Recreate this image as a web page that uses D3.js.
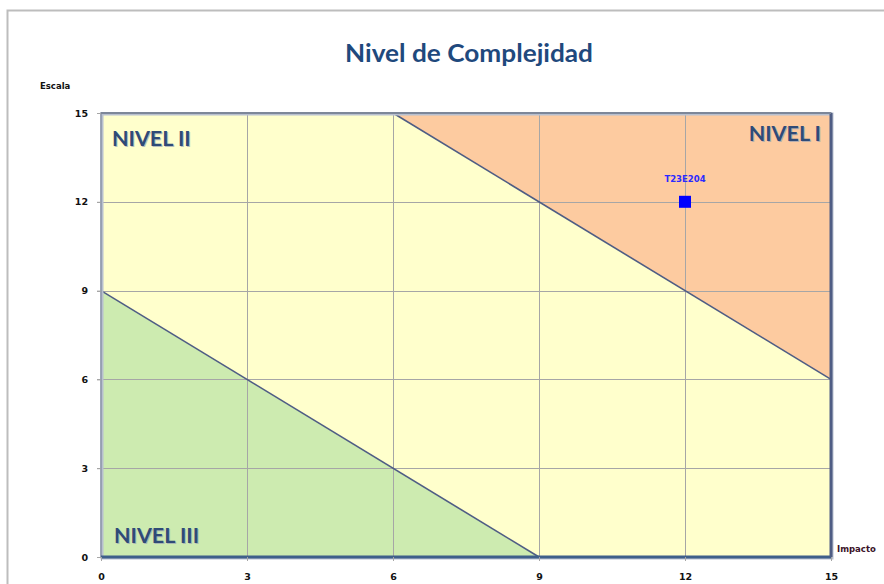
<!DOCTYPE html>
<html>
<head>
<meta charset="utf-8">
<script src="https://cdn.jsdelivr.net/npm/d3@7"></script>
<style>
  html, body { margin: 0; padding: 0; background: #fff; }
  svg { display: block; }
</style>
</head>
<body>
<svg id="chart" width="884" height="584"></svg>
<script>
// Axis ticks
const xTicks = [0, 3, 6, 9, 12, 15];
const yTicks = [0, 3, 6, 9, 12, 15];

// Complexity zones (polygons in Impacto / Escala units)
const zoneNames = ["NIVEL III", "NIVEL II", "NIVEL I"];
const zoneColors = ["#cdebb0", "#ffffcc", "#fdcba0"];
const zoneIII = [[0, 0], [0, 9], [9, 0]];
const zoneII = [[0, 9], [0, 15], [6, 15], [15, 6], [15, 0], [9, 0]];
const zoneI = [[6, 15], [15, 15], [15, 6]];

// Boundary lines between zones
const boundaryLow = [[0, 9], [9, 0]];
const boundaryHigh = [[6, 15], [15, 6]];

// Evaluated project
const pointNames = ["T23E204"];
const pointImpacto = [12];
const pointEscala = [12];

const svg = d3.select("#chart");
const margin = { left: 101, right: 53, top: 113, bottom: 27 };
const W = 884, H = 584;

const x = d3.scaleLinear().domain([0, 15]).range([margin.left, W - margin.right]);
const y = d3.scaleLinear().domain([0, 15]).range([H - margin.bottom, margin.top]);

// outer chart frame
svg.append("rect")
  .attr("x", 7.5).attr("y", 10.5).attr("width", 900).attr("height", 600)
  .attr("fill", "none").attr("stroke", "#bdbdbd").attr("stroke-width", 2);

// title
svg.append("text")
  .attr("x", 469).attr("y", 62)
  .attr("text-anchor", "middle")
  .attr("font-family", "Lato, 'Open Sans', sans-serif")
  .attr("font-weight", "bold")
  .attr("font-size", 25)
  .attr("textLength", 248)
  .attr("lengthAdjust", "spacingAndGlyphs")
  .attr("fill", "#1f497d")
  .text("Nivel de Complejidad");

const line = d3.line().x(d => x(d[0])).y(d => y(d[1]));

// zones
const zones = [zoneIII, zoneII, zoneI];
svg.append("g").selectAll("path")
  .data(zones)
  .join("path")
  .attr("d", d => line(d) + "Z")
  .attr("fill", (d, i) => zoneColors[i]);

// grid
const grid = svg.append("g").attr("stroke", "#a6a6a6").attr("stroke-width", 1);
grid.selectAll(".gx").data(xTicks.slice(1, -1)).join("line")
  .attr("x1", d => Math.round(x(d)) + 0.5).attr("x2", d => Math.round(x(d)) + 0.5)
  .attr("y1", y(15)).attr("y2", y(0) + 4);
grid.selectAll(".gy").data(yTicks.slice(1, -1)).join("line")
  .attr("x1", x(0) - 4).attr("x2", x(15))
  .attr("y1", d => Math.round(y(d)) + 0.5).attr("y2", d => Math.round(y(d)) + 0.5);

// zone boundaries
svg.append("g").selectAll("path")
  .data([boundaryLow, boundaryHigh])
  .join("path")
  .attr("d", line)
  .attr("fill", "none")
  .attr("stroke", "#4f5d84")
  .attr("stroke-width", 1.6);

// plot frame with soft shadow
const frame = svg.append("g");
frame.append("rect")
  .attr("x", x(0) + 1).attr("y", y(15) + 1)
  .attr("width", x(15) - x(0)).attr("height", y(0) - y(15))
  .attr("fill", "none").attr("stroke", "#b8c0cf").attr("stroke-width", 3);
frame.append("rect")
  .attr("x", x(0)).attr("y", y(15))
  .attr("width", x(15) - x(0)).attr("height", y(0) - y(15))
  .attr("fill", "none").attr("stroke", "#8a94a8").attr("stroke-width", 1.5);
frame.append("line")
  .attr("x1", x(0)).attr("x2", x(15) + 1).attr("y1", y(0)).attr("y2", y(0))
  .attr("stroke", "#3e5f8a").attr("stroke-width", 3);
frame.append("line")
  .attr("x1", x(15)).attr("x2", x(15)).attr("y1", y(15)).attr("y2", y(0))
  .attr("stroke", "#4f5d84").attr("stroke-width", 3);
frame.append("line")
  .attr("x1", x(0)).attr("x2", x(15)).attr("y1", y(15)).attr("y2", y(15))
  .attr("stroke", "#7d8799").attr("stroke-width", 2);

// axes
const tickFont = g => g.selectAll("text")
  .attr("font-family", "'DejaVu Sans', sans-serif")
  .attr("font-weight", "bold")
  .attr("font-size", 9.5)
  .attr("fill", "#111");

const xAxis = svg.append("g")
  .attr("transform", `translate(0,${y(0)})`)
  .call(d3.axisBottom(x).tickValues(xTicks).tickSize(4).tickPadding(12));
xAxis.select(".domain").remove();
xAxis.selectAll("line").attr("stroke", "#a6a6a6");
tickFont(xAxis);

const yAxis = svg.append("g")
  .attr("transform", `translate(${x(0)},0)`)
  .call(d3.axisLeft(y).tickValues(yTicks).tickSize(4).tickPadding(9));
yAxis.select(".domain").remove();
yAxis.selectAll("line").attr("stroke", "#a6a6a6");
tickFont(yAxis);

// axis names
svg.append("text")
  .attr("x", 40).attr("y", 89)
  .attr("font-family", "'DejaVu Sans', sans-serif")
  .attr("font-weight", "bold").attr("font-size", 8.5)
  .attr("fill", "#111")
  .text("Escala");
svg.append("text")
  .attr("x", 837).attr("y", 552)
  .attr("font-family", "'DejaVu Sans', sans-serif")
  .attr("font-weight", "bold").attr("font-size", 8.5)
  .attr("fill", "#3a1228")
  .text("Impacto");

// zone labels
const zoneLabelPos = [
  { x: x(0) + 13, y: y(0) - 14, anchor: "start" },
  { x: x(0) + 11, y: y(15) + 33, anchor: "start" },
  { x: x(15) - 10, y: y(15) + 28, anchor: "end" }
];
const labels = svg.append("g")
  .attr("font-family", "Lato, 'Open Sans', sans-serif")
  .attr("font-weight", "bold")
  .attr("font-size", 21.5);
labels.selectAll(".shadow").data(zoneNames).join("text")
  .attr("x", (d, i) => zoneLabelPos[i].x + 1)
  .attr("y", (d, i) => zoneLabelPos[i].y + 1)
  .attr("text-anchor", (d, i) => zoneLabelPos[i].anchor)
  .attr("fill", "#9aa3b5").attr("opacity", 0.7)
  .text(d => d);
labels.selectAll(".main").data(zoneNames).join("text")
  .attr("x", (d, i) => zoneLabelPos[i].x)
  .attr("y", (d, i) => zoneLabelPos[i].y)
  .attr("text-anchor", (d, i) => zoneLabelPos[i].anchor)
  .attr("fill", "#2f4b77")
  .text(d => d);

// project point
const pts = svg.append("g");
pts.selectAll("rect").data(pointNames).join("rect")
  .attr("x", (d, i) => x(pointImpacto[i]) - 6)
  .attr("y", (d, i) => y(pointEscala[i]) - 6)
  .attr("width", 12).attr("height", 12)
  .attr("fill", "#0000ff");
pts.selectAll("text").data(pointNames).join("text")
  .attr("x", (d, i) => x(pointImpacto[i]))
  .attr("y", (d, i) => y(pointEscala[i]) - 20)
  .attr("text-anchor", "middle")
  .attr("font-family", "'DejaVu Sans', sans-serif")
  .attr("font-weight", "bold").attr("font-size", 8.5)
  .attr("fill", "#2a2aff")
  .text(d => d);
</script>
</body>
</html>
